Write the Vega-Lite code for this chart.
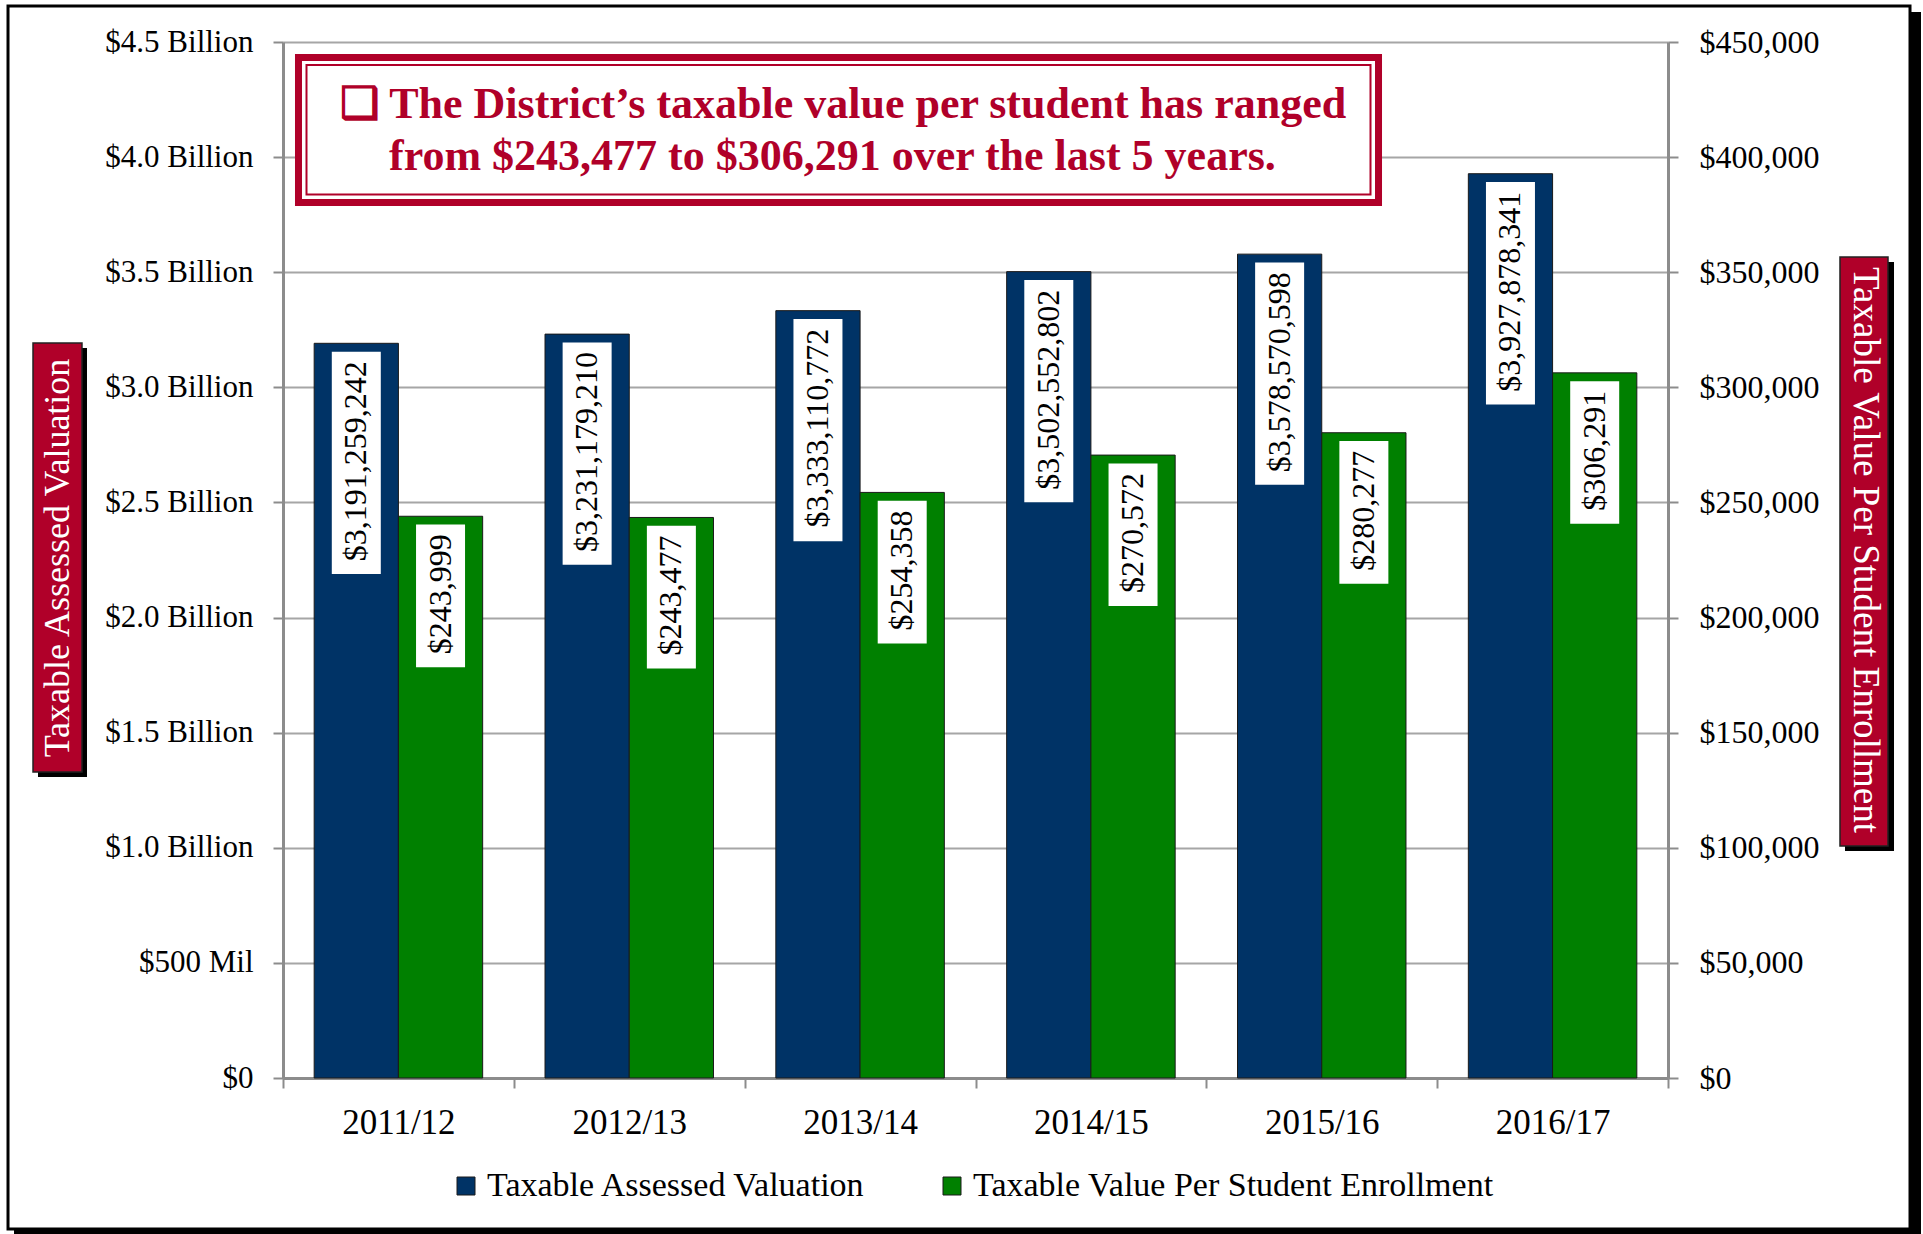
{
  "$schema": "https://vega.github.io/schema/vega-lite/v6.json",
  "width": 1385,
  "height": 1036,
  "autosize": {"type": "none"},
  "padding": {"left": 283, "top": 42, "right": 255, "bottom": 156},
  "background": "white",
  "config": {
    "view": {"stroke": null},
    "font": "Liberation Serif",
    "axis": {
      "labelFont": "Liberation Serif",
      "labelColor": "black",
      "domainColor": "#8c8c8c",
      "domainWidth": 3,
      "tickColor": "#8c8c8c",
      "tickWidth": 2,
      "tickSize": 10,
      "gridColor": "#a6a6a6",
      "gridWidth": 2,
      "title": null
    },
    "legend": {"labelFont": "Liberation Serif", "labelColor": "black"}
  },
  "datasets": {
    "bars": [
      {"year": "2011/12", "series": "Taxable Assessed Valuation", "value": 3191259242},
      {"year": "2012/13", "series": "Taxable Assessed Valuation", "value": 3231179210},
      {"year": "2013/14", "series": "Taxable Assessed Valuation", "value": 3333110772},
      {"year": "2014/15", "series": "Taxable Assessed Valuation", "value": 3502552802},
      {"year": "2015/16", "series": "Taxable Assessed Valuation", "value": 3578570598},
      {"year": "2016/17", "series": "Taxable Assessed Valuation", "value": 3927878341},
      {"year": "2011/12", "series": "Taxable Value Per Student Enrollment", "value": 243999},
      {"year": "2012/13", "series": "Taxable Value Per Student Enrollment", "value": 243477},
      {"year": "2013/14", "series": "Taxable Value Per Student Enrollment", "value": 254358},
      {"year": "2014/15", "series": "Taxable Value Per Student Enrollment", "value": 270572},
      {"year": "2015/16", "series": "Taxable Value Per Student Enrollment", "value": 280277},
      {"year": "2016/17", "series": "Taxable Value Per Student Enrollment", "value": 306291}
    ]
  },
  "data": {"name": "bars"},
  "layer": [
    {
      "data": {"values": [{}]},
      "mark": {"type": "rect", "fillOpacity": 0, "stroke": "black", "strokeWidth": 3},
      "encoding": {
        "x": {"datum": -1.1913, "type": "quantitative", "scale": {"domain": [0, 6], "nice": false, "zero": false}, "axis": null},
        "x2": {"datum": 7.0484},
        "y": {"datum": 4656370000, "type": "quantitative", "scale": {"domain": [0, 4500000000], "nice": false}, "axis": null},
        "y2": {"datum": -655890000}
      }
    },
    {
      "data": {"values": [{}]},
      "mark": {"type": "rect", "fill": "black"},
      "encoding": {
        "x": {"datum": 7.0484, "type": "quantitative", "scale": {"domain": [0, 6], "nice": false, "zero": false}, "axis": null},
        "x2": {"datum": 7.096},
        "y": {"datum": 4630310000, "type": "quantitative", "scale": {"domain": [0, 4500000000], "nice": false}, "axis": null},
        "y2": {"datum": -677610000}
      }
    },
    {
      "data": {"values": [{}]},
      "mark": {"type": "rect", "fill": "black"},
      "encoding": {
        "x": {"datum": -1.1653, "type": "quantitative", "scale": {"domain": [0, 6], "nice": false, "zero": false}, "axis": null},
        "x2": {"datum": 7.096},
        "y": {"datum": -655890000, "type": "quantitative", "scale": {"domain": [0, 4500000000], "nice": false}, "axis": null},
        "y2": {"datum": -677610000}
      }
    },
    {
      "data": {"values": [{}]},
      "mark": {"type": "rect", "fill": "white", "stroke": "#B00029", "strokeWidth": 7},
      "encoding": {
        "x": {"datum": 0.0671, "type": "quantitative", "scale": {"domain": [0, 6], "nice": false, "zero": false}, "axis": null},
        "x2": {"datum": 4.7459},
        "y": {"datum": 4432670000, "type": "quantitative", "scale": {"domain": [0, 4500000000], "nice": false}, "axis": null},
        "y2": {"datum": 3802850000}
      }
    },
    {
      "data": {"values": [{}]},
      "mark": {"type": "rect", "fillOpacity": 0, "stroke": "#B00029", "strokeWidth": 2},
      "encoding": {
        "x": {"datum": 0.1018, "type": "quantitative", "scale": {"domain": [0, 6], "nice": false, "zero": false}, "axis": null},
        "x2": {"datum": 4.7112},
        "y": {"datum": 4400100000, "type": "quantitative", "scale": {"domain": [0, 4500000000], "nice": false}, "axis": null},
        "y2": {"datum": 3837600000}
      }
    },
    {
      "data": {"values": [{}]},
      "mark": {"type": "rect", "fill": "black"},
      "encoding": {
        "x": {"datum": -1.0614, "type": "quantitative", "scale": {"domain": [0, 6], "nice": false, "zero": false}, "axis": null},
        "x2": {"datum": -0.8491},
        "y": {"datum": 3170850000, "type": "quantitative", "scale": {"domain": [0, 4500000000], "nice": false}, "axis": null},
        "y2": {"datum": 1307430000}
      }
    },
    {
      "data": {"values": [{}]},
      "mark": {"type": "rect", "fill": "#B00029", "stroke": "#222222", "strokeWidth": 1.5},
      "encoding": {
        "x": {"datum": -1.083, "type": "quantitative", "scale": {"domain": [0, 6], "nice": false, "zero": false}, "axis": null},
        "x2": {"datum": -0.8708},
        "y": {"datum": 3192570000, "type": "quantitative", "scale": {"domain": [0, 4500000000], "nice": false}, "axis": null},
        "y2": {"datum": 1329150000}
      }
    },
    {
      "data": {"values": [{}]},
      "mark": {"type": "rect", "fill": "black"},
      "encoding": {
        "x": {"datum": 6.7668, "type": "quantitative", "scale": {"domain": [0, 6], "nice": false, "zero": false}, "axis": null},
        "x2": {"datum": 6.9791},
        "y": {"datum": 3544400000, "type": "quantitative", "scale": {"domain": [0, 4500000000], "nice": false}, "axis": null},
        "y2": {"datum": 986000000}
      }
    },
    {
      "data": {"values": [{}]},
      "mark": {"type": "rect", "fill": "#B00029", "stroke": "#222222", "strokeWidth": 1.5},
      "encoding": {
        "x": {"datum": 6.7451, "type": "quantitative", "scale": {"domain": [0, 6], "nice": false, "zero": false}, "axis": null},
        "x2": {"datum": 6.9531},
        "y": {"datum": 3566120000, "type": "quantitative", "scale": {"domain": [0, 4500000000], "nice": false}, "axis": null},
        "y2": {"datum": 1007720000}
      }
    },
    {
      "data": {"values": [{}]},
      "mark": {"type": "text", "text": "Taxable Assessed Valuation", "angle": 270, "align": "center", "baseline": "middle", "font": "Liberation Serif", "fontSize": 36, "color": "white"},
      "encoding": {
        "x": {"datum": -0.9747, "type": "quantitative", "scale": {"domain": [0, 6], "nice": false, "zero": false}, "axis": null},
        "y": {"datum": 2258690000, "type": "quantitative", "scale": {"domain": [0, 4500000000], "nice": false}, "axis": null}
      }
    },
    {
      "data": {"values": [{}]},
      "mark": {"type": "text", "text": "Taxable Value Per Student Enrollment", "angle": 90, "align": "center", "baseline": "middle", "font": "Liberation Serif", "fontSize": 37, "color": "white"},
      "encoding": {
        "x": {"datum": 6.8534, "type": "quantitative", "scale": {"domain": [0, 6], "nice": false, "zero": false}, "axis": null},
        "y": {"datum": 2293440000, "type": "quantitative", "scale": {"domain": [0, 4500000000], "nice": false}, "axis": null}
      }
    },
    {
      "transform": [{"filter": "datum.series == 'Taxable Assessed Valuation'"}],
      "mark": {"type": "bar", "stroke": "#1a1a1a", "strokeWidth": 1},
      "encoding": {
        "x": {
          "field": "year", "type": "nominal", "sort": null,
          "scale": {"type": "band", "domain": ["2011/12", "2012/13", "2013/14", "2014/15", "2015/16", "2016/17"], "paddingInner": 0, "paddingOuter": 0},
          "axis": {"labelAngle": 0, "tickBand": "extent", "labelFontSize": 35, "labelPadding": 17, "grid": false, "title": null}
        },
        "xOffset": {"field": "series", "type": "nominal", "scale": {"type": "band", "domain": ["Taxable Assessed Valuation", "Taxable Value Per Student Enrollment"], "paddingInner": 0, "paddingOuter": 0.37}},
        "y": {
          "field": "value", "type": "quantitative", "stack": null,
          "scale": {"domain": [0, 4500000000], "nice": false},
          "axis": {
            "orient": "left", "grid": true, "title": null,
            "values": [0, 500000000, 1000000000, 1500000000, 2000000000, 2500000000, 3000000000, 3500000000, 4000000000, 4500000000],
            "labelExpr": "datum.value == 0 ? '$0' : (datum.value == 500000000 ? '$500 Mil' : '$' + format(datum.value / 1000000000, '.1f') + ' Billion')",
            "labelFontSize": 31, "labelPadding": 20
          }
        },
        "color": {
          "field": "series", "type": "nominal",
          "scale": {"domain": ["Taxable Assessed Valuation", "Taxable Value Per Student Enrollment"], "range": ["#003366", "#008000"]},
          "legend": {
            "orient": "none", "legendX": 166, "legendY": 1127, "direction": "horizontal", "title": null,
            "symbolType": "square", "symbolSize": 324, "symbolStrokeColor": "#333333", "symbolStrokeWidth": 1,
            "labelFontSize": 34, "labelOffset": 4, "columnPadding": 68, "padding": 0, "labelLimit": 800
          }
        }
      }
    },
    {
      "transform": [{"filter": "datum.series == 'Taxable Value Per Student Enrollment'"}],
      "mark": {"type": "bar", "stroke": "#1a1a1a", "strokeWidth": 1},
      "encoding": {
        "x": {
          "field": "year", "type": "nominal", "sort": null,
          "scale": {"type": "band", "domain": ["2011/12", "2012/13", "2013/14", "2014/15", "2015/16", "2016/17"], "paddingInner": 0, "paddingOuter": 0},
          "axis": null
        },
        "xOffset": {"field": "series", "type": "nominal", "scale": {"type": "band", "domain": ["Taxable Assessed Valuation", "Taxable Value Per Student Enrollment"], "paddingInner": 0, "paddingOuter": 0.37}},
        "y": {
          "field": "value", "type": "quantitative", "stack": null,
          "scale": {"domain": [0, 450000], "nice": false},
          "axis": {
            "orient": "right", "grid": false, "title": null,
            "values": [0, 50000, 100000, 150000, 200000, 250000, 300000, 350000, 400000, 450000],
            "format": "$,.0f", "labelFontSize": 32, "labelPadding": 21
          }
        },
        "color": {"field": "series", "type": "nominal"}
      }
    },
    {
      "transform": [{"filter": "datum.series == 'Taxable Assessed Valuation'"}],
      "mark": {"type": "point", "shape": "M-0.245,0.084H0.245V2.307H-0.245Z", "size": 40000, "filled": true, "fill": "white", "opacity": 1, "strokeWidth": 0},
      "encoding": {
        "x": {"field": "year", "type": "nominal", "sort": null, "scale": {"type": "band", "domain": ["2011/12", "2012/13", "2013/14", "2014/15", "2015/16", "2016/17"], "paddingInner": 0, "paddingOuter": 0}, "axis": null},
        "xOffset": {"field": "series", "type": "nominal", "scale": {"type": "band", "domain": ["Taxable Assessed Valuation", "Taxable Value Per Student Enrollment"], "paddingInner": 0, "paddingOuter": 0.37}},
        "y": {"field": "value", "type": "quantitative", "scale": {"domain": [0, 4500000000], "nice": false}, "axis": null}
      }
    },
    {
      "transform": [{"filter": "datum.series == 'Taxable Value Per Student Enrollment'"}],
      "mark": {"type": "point", "shape": "M-0.245,0.083H0.245V1.51H-0.245Z", "size": 40000, "filled": true, "fill": "white", "opacity": 1, "strokeWidth": 0},
      "encoding": {
        "x": {"field": "year", "type": "nominal", "sort": null, "scale": {"type": "band", "domain": ["2011/12", "2012/13", "2013/14", "2014/15", "2015/16", "2016/17"], "paddingInner": 0, "paddingOuter": 0}, "axis": null},
        "xOffset": {"field": "series", "type": "nominal", "scale": {"type": "band", "domain": ["Taxable Assessed Valuation", "Taxable Value Per Student Enrollment"], "paddingInner": 0, "paddingOuter": 0.37}},
        "y": {"field": "value", "type": "quantitative", "scale": {"domain": [0, 450000], "nice": false}, "axis": null}
      }
    },
    {
      "transform": [{"filter": "datum.series == 'Taxable Assessed Valuation'"}],
      "mark": {"type": "text", "angle": 270, "align": "right", "baseline": "middle", "dx": -18, "font": "Liberation Serif", "fontSize": 32, "color": "black"},
      "encoding": {
        "x": {"field": "year", "type": "nominal", "sort": null, "scale": {"type": "band", "domain": ["2011/12", "2012/13", "2013/14", "2014/15", "2015/16", "2016/17"], "paddingInner": 0, "paddingOuter": 0}, "axis": null},
        "xOffset": {"field": "series", "type": "nominal", "scale": {"type": "band", "domain": ["Taxable Assessed Valuation", "Taxable Value Per Student Enrollment"], "paddingInner": 0, "paddingOuter": 0.37}},
        "y": {"field": "value", "type": "quantitative", "scale": {"domain": [0, 4500000000], "nice": false}, "axis": null},
        "text": {"field": "value", "type": "quantitative", "format": "$,.0f"}
      }
    },
    {
      "transform": [{"filter": "datum.series == 'Taxable Value Per Student Enrollment'"}],
      "mark": {"type": "text", "angle": 270, "align": "right", "baseline": "middle", "dx": -18, "font": "Liberation Serif", "fontSize": 32, "color": "black"},
      "encoding": {
        "x": {"field": "year", "type": "nominal", "sort": null, "scale": {"type": "band", "domain": ["2011/12", "2012/13", "2013/14", "2014/15", "2015/16", "2016/17"], "paddingInner": 0, "paddingOuter": 0}, "axis": null},
        "xOffset": {"field": "series", "type": "nominal", "scale": {"type": "band", "domain": ["Taxable Assessed Valuation", "Taxable Value Per Student Enrollment"], "paddingInner": 0, "paddingOuter": 0.37}},
        "y": {"field": "value", "type": "quantitative", "scale": {"domain": [0, 450000], "nice": false}, "axis": null},
        "text": {"field": "value", "type": "quantitative", "format": "$,.0f"}
      }
    },
    {
      "data": {"values": [{}]},
      "mark": {"type": "text", "text": "❑ The District’s taxable value per student has ranged", "align": "left", "baseline": "alphabetic", "font": "Liberation Serif", "fontSize": 44, "fontWeight": "bold", "color": "#B00029"},
      "encoding": {
        "x": {"datum": 0.2469, "type": "quantitative", "scale": {"domain": [0, 6], "nice": false, "zero": false}, "axis": null},
        "y": {"datum": 4169880000, "type": "quantitative", "scale": {"domain": [0, 4500000000], "nice": false}, "axis": null}
      }
    },
    {
      "data": {"values": [{}]},
      "mark": {"type": "text", "text": "from $243,477 to $306,291 over the last 5 years.", "align": "left", "baseline": "alphabetic", "font": "Liberation Serif", "fontSize": 44, "fontWeight": "bold", "color": "#B00029"},
      "encoding": {
        "x": {"datum": 0.4592, "type": "quantitative", "scale": {"domain": [0, 6], "nice": false, "zero": false}, "axis": null},
        "y": {"datum": 3944020000, "type": "quantitative", "scale": {"domain": [0, 4500000000], "nice": false}, "axis": null}
      }
    }
  ],
  "resolve": {"scale": {"x": "independent", "y": "independent", "xOffset": "independent"}}
}
